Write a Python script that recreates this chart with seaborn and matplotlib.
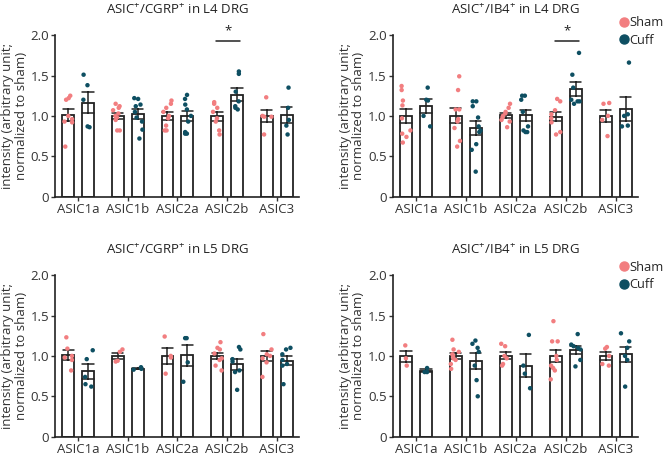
import numpy as np
import pandas as pd
import seaborn as sns
import matplotlib.pyplot as plt
from matplotlib.lines import Line2D

receptors = ['ASIC1a', 'ASIC1b', 'ASIC2a', 'ASIC2b', 'ASIC3']
groups = ['Sham', 'Cuff']
colors = {'Sham': '#F27E80', 'Cuff': '#0E4F62'}

# valores (normalizados ao sham)
l4_cgrp_sham = [[1.22, 1.25, 1.20, 1.00, 0.96, 0.92, 0.93, 0.62],
                [1.15, 1.12, 1.10, 1.07, 1.03, 1.00, 0.98, 0.95, 0.82, 0.82],
                [1.19, 1.15, 1.10, 1.05, 1.00, 0.97, 0.88, 0.82, 0.82],
                [1.17, 1.15, 1.10, 1.05, 0.97, 0.93, 0.82, 0.77],
                [1.23, 1.00, 0.99, 0.99, 0.77]]
l4_cgrp_cuff = [[1.51, 1.38, 1.20, 0.87, 0.86],
                [1.22, 1.21, 1.14, 1.12, 1.05, 0.98, 0.93, 0.83, 0.72],
                [1.26, 1.21, 1.14, 1.08, 1.00, 0.93, 0.80, 0.78, 0.78],
                [1.55, 1.52, 1.30, 1.18, 1.10, 1.08, 1.12],
                [1.35, 1.10, 0.95, 0.88, 0.77]]

l4_ib4_sham = [[1.37, 1.32, 1.19, 1.13, 0.97, 0.78, 0.74, 0.67, 0.82],
               [1.49, 1.32, 1.08, 1.08, 0.96, 0.93, 0.69, 0.62, 0.85],
               [1.15, 1.10, 1.05, 1.03, 1.00, 0.98, 0.95, 0.93, 0.86],
               [1.21, 1.18, 1.07, 1.02, 0.97, 0.92, 0.80, 0.77],
               [1.16, 1.15, 1.00, 0.95, 0.75]]
l4_ib4_cuff = [[1.35, 1.20, 1.19, 1.00, 0.87],
               [1.18, 1.18, 1.12, 0.98, 0.87, 0.82, 0.80, 0.65, 0.58, 0.31],
               [1.25, 1.25, 1.20, 1.05, 0.87, 0.80, 0.80, 0.82],
               [1.78, 1.51, 1.35, 1.18, 1.18, 1.15, 1.20],
               [1.66, 1.02, 1.00, 0.88, 0.87]]

l5_cgrp_sham = [[1.23, 1.09, 1.00, 0.98, 0.95, 0.82],
                [1.08, 1.05, 0.94, 0.93],
                [1.24, 1.00, 0.98, 0.78],
                [1.17, 1.10, 1.08, 1.03, 0.97, 0.95, 0.88, 0.82],
                [1.27, 1.08, 1.02, 1.00, 0.97, 0.92, 0.74]]
l5_cgrp_cuff = [[1.07, 0.96, 0.74, 0.65, 0.62],
                [0.86, 0.84, 0.83],
                [1.22, 1.22, 0.92, 0.68],
                [1.11, 1.08, 0.96, 0.93, 0.82, 0.80, 0.58],
                [1.10, 1.08, 1.02, 0.95, 0.90, 0.88, 0.65]]

l5_ib4_sham = [[1.13, 0.97, 0.88],
               [1.20, 1.08, 1.05, 1.02, 1.00, 0.97, 0.95, 0.90, 0.84],
               [1.15, 1.12, 1.00, 0.97, 0.88, 0.90],
               [1.43, 1.18, 1.18, 1.00, 0.95, 0.88, 0.82, 0.71, 0.85],
               [1.11, 1.09, 1.00, 0.90, 0.88]]
l5_ib4_cuff = [[0.85, 0.80, 0.80],
               [1.19, 1.15, 1.10, 1.05, 0.70, 0.50, 0.88],
               [1.26, 0.88, 0.78, 0.60],
               [1.27, 1.14, 1.12, 1.08, 0.95, 0.87, 1.10],
               [1.28, 1.18, 1.10, 1.00, 0.95, 0.62]]

titles = ['ASIC$^{+}$/CGRP$^{+}$ in L4 DRG', 'ASIC$^{+}$/IB4$^{+}$ in L4 DRG',
          'ASIC$^{+}$/CGRP$^{+}$ in L5 DRG', 'ASIC$^{+}$/IB4$^{+}$ in L5 DRG']


def tabela(sham, cuff):
    linhas = []
    for g, dados in zip(groups, [sham, cuff]):
        for r, vals in zip(receptors, dados):
            for v in vals:
                linhas.append({'receptor': r, 'group': g, 'value': v})
    return pd.DataFrame(linhas)


paineis = [tabela(l4_cgrp_sham, l4_cgrp_cuff), tabela(l4_ib4_sham, l4_ib4_cuff),
           tabela(l5_cgrp_sham, l5_cgrp_cuff), tabela(l5_ib4_sham, l5_ib4_cuff)]

sns.set_style('ticks')
plt.rcParams['font.family'] = ['Open Sans', 'DejaVu Sans']
plt.rcParams['mathtext.fontset'] = 'custom'
plt.rcParams['mathtext.rm'] = 'Open Sans'
plt.rcParams['mathtext.it'] = 'Open Sans:italic'
plt.rcParams['mathtext.bf'] = 'Open Sans:bold'

np.random.seed(3)
fig = plt.figure(figsize=(6.66, 4.59), dpi=100)
posicoes = [[0.083, 0.5715, 0.366, 0.352], [0.590, 0.5715, 0.368, 0.352],
            [0.083, 0.0486, 0.366, 0.352], [0.590, 0.0486, 0.368, 0.352]]

for i, df in enumerate(paineis):
    ax = fig.add_axes(posicoes[i])
    sns.barplot(data=df, x='receptor', y='value', hue='group', order=receptors,
                hue_order=groups, palette={'Sham': 'white', 'Cuff': 'white'},
                errorbar='se', capsize=0.45, width=0.8, gap=0.4,
                edgecolor='#222222', linewidth=1.3,
                err_kws={'color': '#222222', 'linewidth': 1.1}, legend=False, ax=ax)
    sns.stripplot(data=df, x='receptor', y='value', hue='group', order=receptors,
                  hue_order=groups, palette=colors, dodge=True, jitter=0.2,
                  size=3.2, linewidth=0, legend=False, ax=ax)
    ax.set_xlim(-0.46, 4.45)
    ax.set_ylim(0, 2.0)
    ax.set_yticks([0, 0.5, 1.0, 1.5, 2.0])
    ax.set_yticklabels(['0', '0.5', '1.0', '1.5', '2.0'])
    ax.set_xlabel('')
    ax.set_ylabel('intensity (arbitrary unit;\nnormalized to sham)', fontsize=9.5,
                  color='#333333', labelpad=2, linespacing=1.05)
    ax.set_title(titles[i], fontsize=9.5, pad=15, color='#222222')
    ax.tick_params(axis='both', labelsize=9.5, length=3, width=1.0, pad=1.5,
                   colors='#333333')
    sns.despine(ax=ax)
    for s in ['left', 'bottom']:
        ax.spines[s].set_linewidth(1.2)
        ax.spines[s].set_color('#222222')

    # asterisco de significância no ASIC2b (L4)
    if i < 2:
        ax.plot([2.78, 3.26], [1.93, 1.93], color='#222222', lw=1.1, clip_on=False)
        ax.text(3.02, 1.97, '*', ha='center', va='bottom', fontsize=9.5, color='#222222')

    # legenda nos painéis da direita
    if i % 2 == 1:
        handles = [Line2D([], [], marker='o', ls='', color=colors[g], markersize=6.5)
                   for g in groups]
        y0 = 1.15 if i == 1 else 1.12
        ax.legend(handles, groups, loc='upper left', bbox_to_anchor=(0.895, y0),
                  frameon=False, fontsize=9.3, handletextpad=-0.1,
                  handlelength=1.0, labelspacing=0.35, borderaxespad=0)

fig.savefig('out.png', dpi=100)
